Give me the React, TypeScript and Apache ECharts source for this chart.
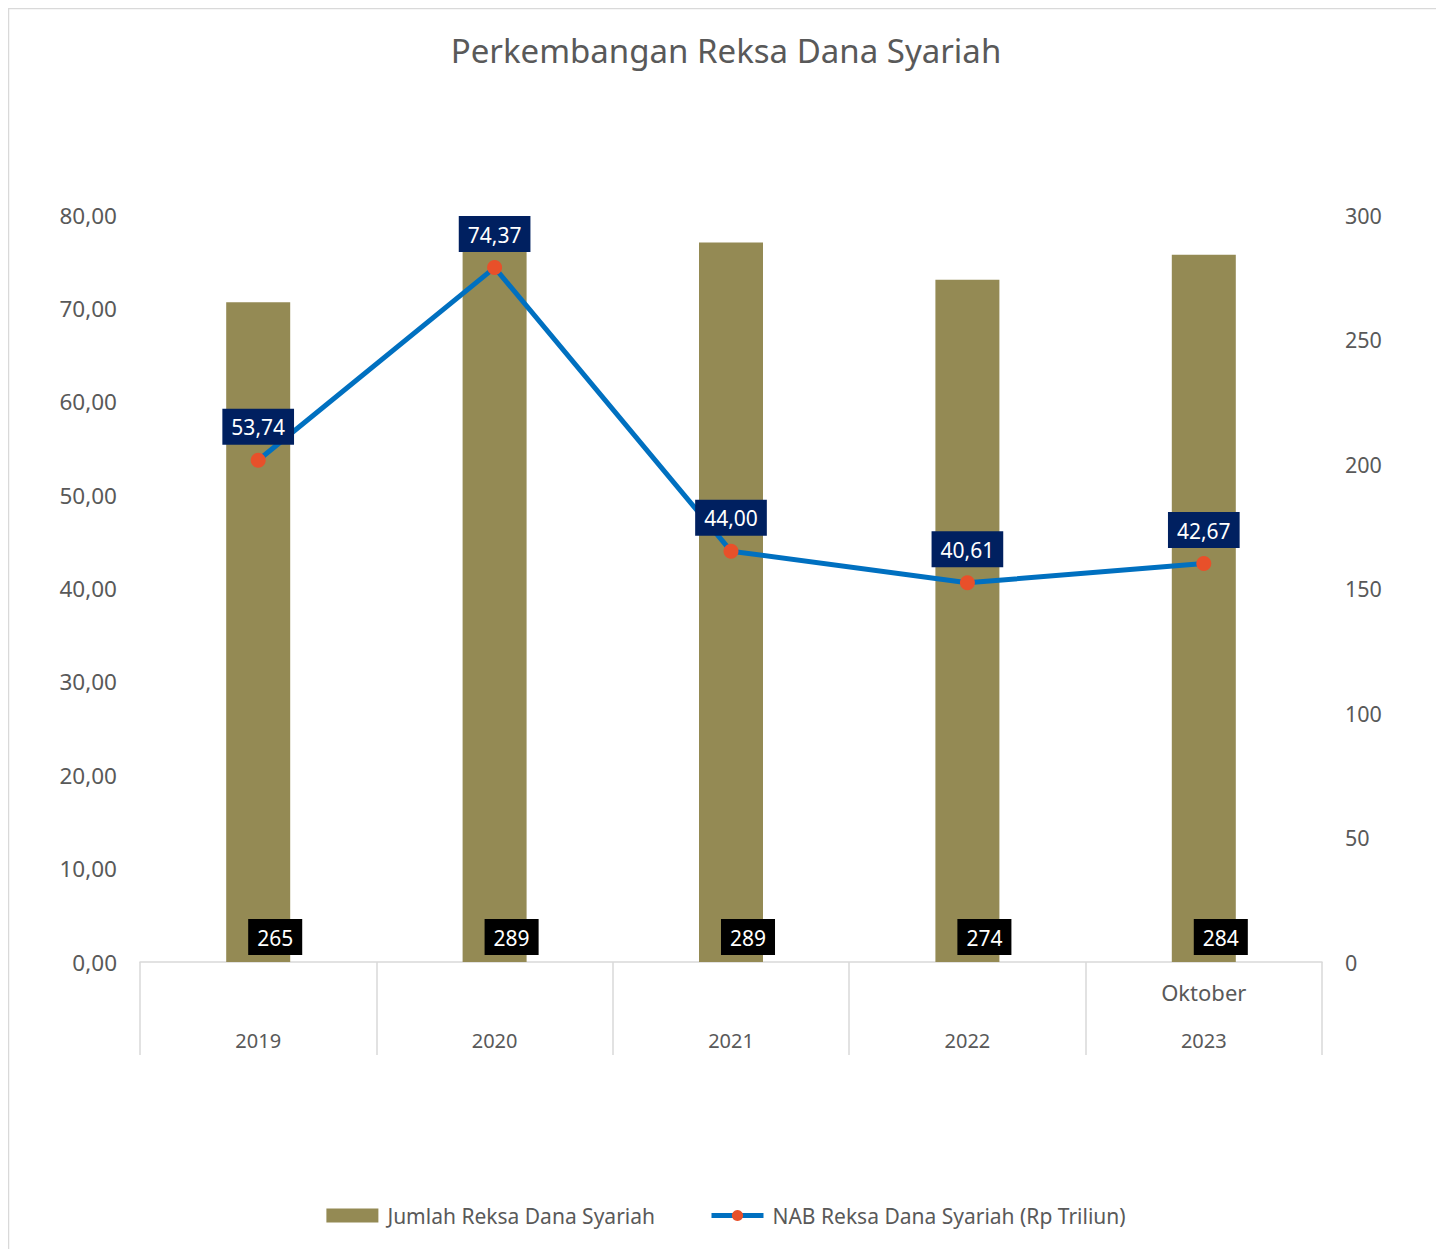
import React, { useEffect, useRef } from "react";
import * as echarts from "echarts";

const categories = ["2019", "2020", "2021", "2022", "Oktober\n2023"];
const jumlahValues = [265, 289, 289, 274, 284];
const nabValues = [53.74, 74.37, 44.0, 40.61, 42.67];
const titleText = "Perkembangan Reksa Dana Syariah";
const seriesNames = ["Jumlah Reksa Dana Syariah", "NAB Reksa Dana Syariah (Rp Triliun)"];

const FONT = "'Noto Sans', 'Open Sans', sans-serif";
const GREY = "#595959";

const fmt = (v: number) => v.toFixed(2).replace(".", ",");

export default function App() {
  const ref = useRef<HTMLDivElement>(null);
  useEffect(() => {
    document.body.style.overflow = "hidden";
    const chart = echarts.init(ref.current!, undefined, { renderer: "svg" });
    chart.setOption({
      animation: false,
      backgroundColor: "#ffffff",
      textStyle: { fontFamily: FONT },
      title: {
        text: titleText,
        left: "center",
        top: 26,
        padding: 0,
        textStyle: { fontFamily: FONT, fontSize: 33, fontWeight: "normal", color: GREY },
      },
      graphic: [
        {
          type: "rect",
          shape: { x: 0.5, y: 0.5, width: 1440, height: 1250 },
          style: { fill: "none", stroke: "#d9d9d9", lineWidth: 1.5 },
          silent: true,
        },
      ],
      legend: {
        bottom: 18,
        left: "center",
        itemWidth: 52,
        itemHeight: 14,
        itemGap: 54,
        textStyle: { fontFamily: FONT, fontSize: 21, color: GREY, padding: [0, 0, 0, 4] },
        data: [
          { name: seriesNames[0], icon: "rect" },
          {
            name: seriesNames[1],
            itemStyle: { color: "#e8502a" },
            lineStyle: { color: "#0070c0", width: 5 },
          },
        ],
      },
      grid: { left: 132, right: 122, top: 207, bottom: 287, containLabel: false },
      xAxis: {
        type: "category",
        data: categories,
        boundaryGap: true,
        axisLine: { lineStyle: { color: "#d9d9d9", width: 1.5 } },
        axisTick: { show: true, length: 93, lineStyle: { color: "#d9d9d9", width: 1.5 } },
        axisLabel: {
          interval: 0,
          margin: 6,
          fontFamily: FONT,
          color: GREY,
          formatter: (v: string) => {
            const parts = v.split("\n");
            if (parts.length > 1) return `{o|${parts[0]}}\n{y|${parts[1]}}`;
            return `{o|}\n{y|${v}}`;
          },
          rich: {
            o: { fontFamily: FONT, fontSize: 22, lineHeight: 48, color: GREY },
            y: { fontFamily: FONT, fontSize: 20, lineHeight: 48, color: GREY },
          },
        },
      },
      yAxis: [
        {
          type: "value",
          min: 0,
          max: 80,
          interval: 10,
          position: "left",
          splitLine: { show: false },
          axisLine: { show: false },
          axisTick: { show: false },
          axisLabel: { margin: 23, fontFamily: FONT, fontSize: 22.5, color: GREY, formatter: (v: number) => fmt(v) },
        },
        {
          type: "value",
          min: 0,
          max: 300,
          interval: 50,
          position: "right",
          splitLine: { show: false },
          axisLine: { show: false },
          axisTick: { show: false },
          axisLabel: { margin: 23, fontFamily: FONT, fontSize: 21.5, color: GREY },
        },
      ],
      series: [
        {
          name: seriesNames[0],
          type: "bar",
          yAxisIndex: 1,
          data: jumlahValues,
          barWidth: 64,
          itemStyle: { color: "#948a54" },
          label: {
            show: true,
            position: "insideBottom",
            distance: 7,
            offset: [17, 0],
            color: "#ffffff",
            fontFamily: FONT,
            fontSize: 21,
            backgroundColor: "#000000",
            padding: [8, 9, 7, 9],
          },
          z: 2,
        },
        {
          name: seriesNames[1],
          type: "line",
          yAxisIndex: 0,
          data: nabValues,
          symbol: "circle",
          symbolSize: 15,
          lineStyle: { color: "#0070c0", width: 5 },
          itemStyle: { color: "#e8502a" },
          label: {
            show: true,
            position: "top",
            distance: 8,
            color: "#ffffff",
            fontFamily: FONT,
            fontSize: 21,
            backgroundColor: "#002060",
            padding: [8, 9, 7, 9],
            formatter: (p: any) => fmt(p.value),
          },
          z: 5,
        },
      ],
    });
    return () => chart.dispose();
  }, []);
  return <div ref={ref} style={{ width: 1436, height: 1241 }} />;
}
